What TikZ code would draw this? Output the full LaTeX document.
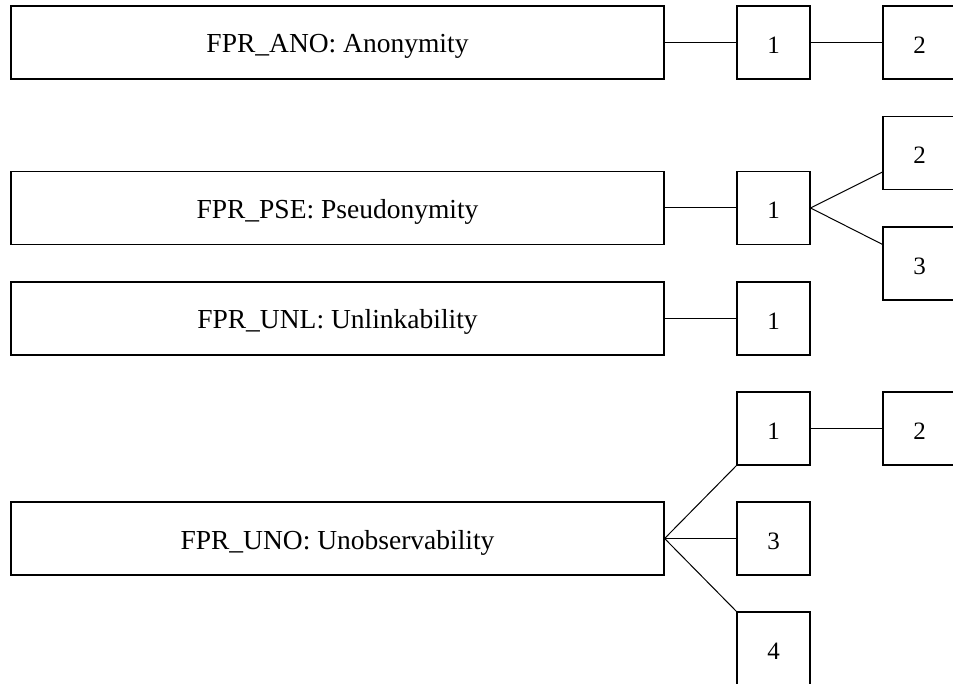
\documentclass[tikz,border=0pt]{standalone}
\usepackage{fontspec}
\setmainfont{Liberation Serif}
\usepackage{tikz}
\usetikzlibrary{positioning}

\tikzset{
  famblock/.style={draw, line width=1.2pt, minimum width=653pt, minimum height=73pt, inner sep=0pt, text height=21pt, text depth=0pt},
  compblock/.style={draw, line width=1.2pt, minimum width=73pt, minimum height=73pt, inner sep=0pt, text height=22pt, text depth=0pt, font=\fontsize{25}{30}\selectfont},
  famlink/.style={line width=1pt}
}

\begin{document}
\begin{tikzpicture}[x=1pt, y=-1pt, font=\fontsize{27.5}{33}\selectfont]
\clip (0,0) rectangle (953,684);
\fill[white] (0,0) rectangle (953,684);
% families
\node[famblock] (ano) at (337.5,42.5) {FPR\_ANO: Anonymity};
\node[famblock] (pse) at (337.5,208) {FPR\_PSE: Pseudonymity};
\node[famblock] (unl) at (337.5,318.5) {FPR\_UNL: Unlinkability};
\node[famblock] (uno) at (337.5,538.5) {FPR\_UNO: Unobservability};
% components
\node[compblock] (ano1) at (773.5,42.5) {1};
\node[compblock] (ano2) at (919.5,42.5) {2};
\node[compblock] (pse1) at (773.5,208) {1};
\node[compblock] (pse2) at (919.5,153) {2};
\node[compblock] (pse3) at (919.5,263.5) {3};
\node[compblock] (unl1) at (773.5,318.5) {1};
\node[compblock] (uno1) at (773.5,428.5) {1};
\node[compblock] (uno2) at (919.5,428.5) {2};
\node[compblock] (uno3) at (773.5,538.5) {3};
\node[compblock] (uno4) at (773.5,648.5) {4};
% links
\draw[famlink] (ano) -- (ano1) -- (ano2);
\draw[famlink] (pse) -- (pse1);
\draw[famlink] (pse1.east) -- ([yshift=18pt]pse2.south west);
\draw[famlink] (pse1.east) -- ([yshift=-18pt]pse3.north west);
\draw[famlink] (unl) -- (unl1);
\draw[famlink] (uno.east) -- (uno1.south west);
\draw[famlink] (uno.east) -- (uno3.west);
\draw[famlink] (uno.east) -- (uno4.north west);
\draw[famlink] (uno1) -- (uno2);
\end{tikzpicture}
\end{document}
